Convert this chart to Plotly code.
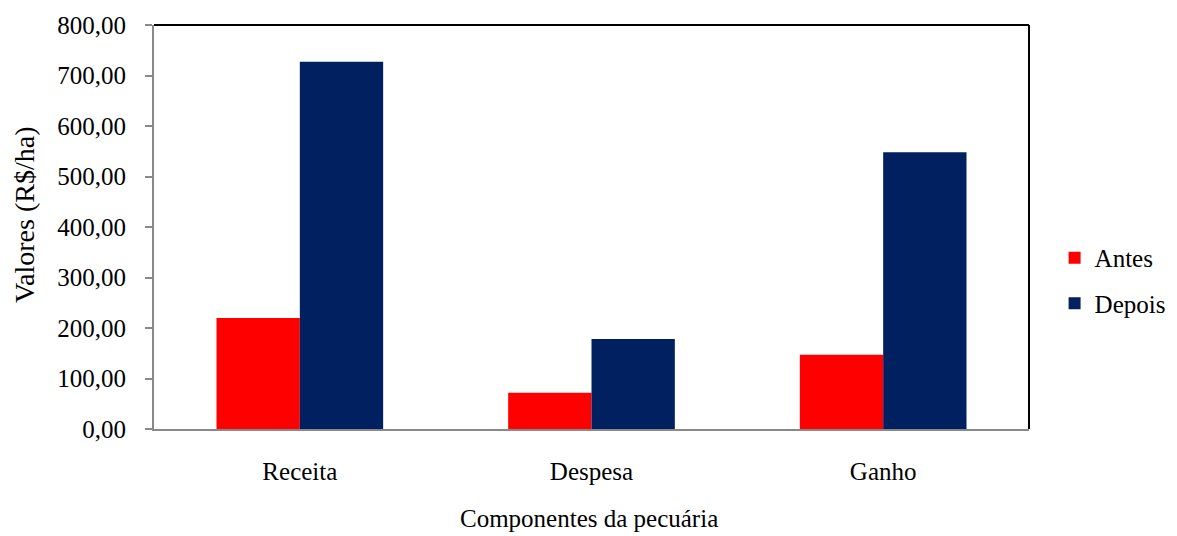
import plotly.graph_objects as go

# Componentes da pecuária (R$/ha), antes e depois
categorias = ["Receita", "Despesa", "Ganho"]
antes = [220.0, 72.0, 147.0]
depois = [727.0, 178.0, 548.0]
serie_nomes = ["Antes", "Depois"]
cores = ["#FF0000", "#002060"]

FONTE = "Liberation Serif"
TAM = 25

fig = go.Figure()
for nome, valores, cor in zip(serie_nomes, [antes, depois], cores):
    fig.add_trace(go.Bar(
        x=categorias, y=valores, name=nome,
        marker=dict(color=cor, line=dict(width=0)),
        legendgroup=nome,
    ))

fig.update_layout(
    width=1177, height=536,
    margin=dict(l=154, r=148, t=21, b=107),
    paper_bgcolor="white", plot_bgcolor="white",
    barmode="group", bargap=0.4286, bargroupgap=0,
    separators=",.",
    font=dict(family=FONTE, size=TAM, color="black"),
    showlegend=True,
    legend=dict(
        xref="container", yref="container",
        x=0.896, xanchor="left", y=0.4767, yanchor="middle",
        font=dict(family=FONTE, size=TAM, color="black"),
        tracegroupgap=10, bgcolor="rgba(0,0,0,0)",
    ),
    xaxis=dict(
        showline=True, linecolor="#898989", linewidth=2,
        ticks="", showgrid=False, zeroline=False,
        tickfont=dict(family=FONTE, size=TAM, color="black"),
        ticklabelstandoff=19,
    ),
    yaxis=dict(
        range=[0, 800], dtick=100, tickformat=".2f",
        showline=True, linecolor="#898989", linewidth=2,
        ticks="outside", ticklen=7, tickcolor="#898989", tickwidth=2,
        showgrid=False, zeroline=False,
        tickfont=dict(family=FONTE, size=TAM, color="black"),
        ticklabelstandoff=14,
    ),
    shapes=[
        dict(type="line", xref="paper", yref="paper", x0=0, x1=1, y0=1, y1=1,
             line=dict(color="black", width=2)),
        dict(type="line", xref="paper", yref="paper", x0=1, x1=1, y0=0, y1=1,
             line=dict(color="black", width=2)),
    ],
    annotations=[
        dict(text="Valores (R$/ha)", xref="paper", yref="paper",
             x=-0.1486, y=0.532, xanchor="center", yanchor="middle",
             textangle=-90, showarrow=False,
             font=dict(family=FONTE, size=28, color="black")),
        dict(text="Componentes da pecuária", xref="paper", yref="paper",
             x=0.497, y=-0.222, xanchor="center", yanchor="middle",
             showarrow=False,
             font=dict(family=FONTE, size=TAM, color="black")),
    ],
)

fig.write_html("out.html")
